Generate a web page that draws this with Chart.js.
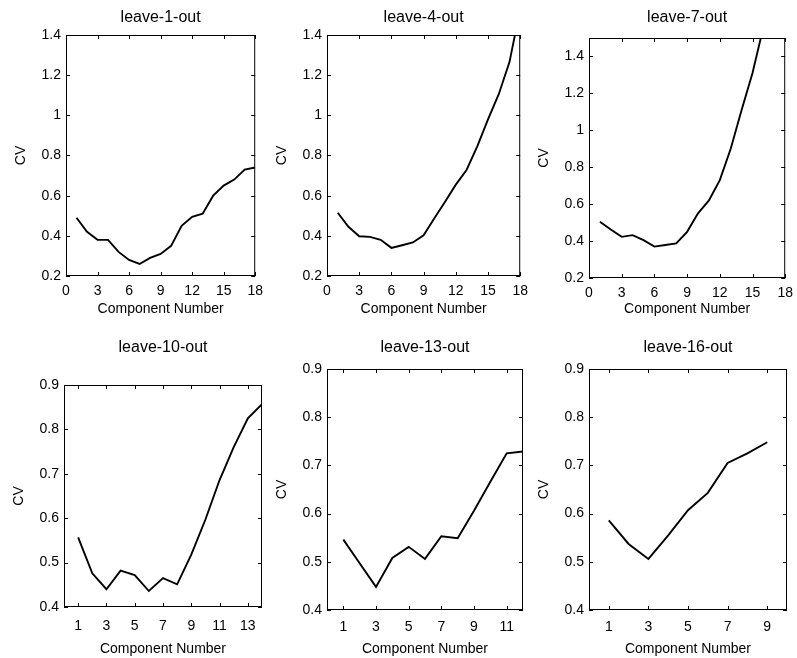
<!DOCTYPE html>
<html lang="en">
<head>
    <meta charset="UTF-8">
    <title>CV vs Component Number</title>
    <style>
        body {
            margin: 0;
            padding: 0;
            background-color: #fff;
            overflow: hidden;
        }

        .panel {
            position: absolute;
        }
    </style>
</head>
<body>
    <div id="panels"></div>

    <script src="https://cdn.jsdelivr.net/npm/chart.js"></script>
    <script>
        // CV values, one value per component number
        const components18 = [1, 2, 3, 4, 5, 6, 7, 8, 9, 10, 11, 12, 13, 14, 15, 16, 17, 18];
        const cvLeave1 = [0.49, 0.42, 0.38, 0.38, 0.32, 0.28, 0.26, 0.29, 0.31, 0.35, 0.45, 0.495, 0.51, 0.60, 0.65, 0.68, 0.73, 0.74];
        const cvLeave4 = [0.515, 0.445, 0.398, 0.395, 0.38, 0.34, 0.353, 0.367, 0.403, 0.487, 0.57, 0.655, 0.728, 0.845, 0.98, 1.105, 1.265, 1.53];
        const components16 = [1, 2, 3, 4, 5, 6, 7, 8, 9, 10, 11, 12, 13, 14, 15, 16];
        const cvLeave7 = [0.505, 0.463, 0.423, 0.432, 0.405, 0.37, 0.379, 0.387, 0.45, 0.55, 0.62, 0.73, 0.90, 1.11, 1.31, 1.56];
        const components14 = [1, 2, 3, 4, 5, 6, 7, 8, 9, 10, 11, 12, 13, 14];
        const cvLeave10 = [0.557, 0.476, 0.44, 0.482, 0.472, 0.436, 0.465, 0.451, 0.518, 0.597, 0.686, 0.76, 0.825, 0.857];
        const components12 = [1, 2, 3, 4, 5, 6, 7, 8, 9, 10, 11, 12];
        const cvLeave13 = [0.546, 0.497, 0.448, 0.508, 0.531, 0.506, 0.553, 0.549, 0.606, 0.666, 0.725, 0.729];
        const components9 = [1, 2, 3, 4, 5, 6, 7, 8, 9];
        const cvLeave16 = [0.586, 0.537, 0.506, 0.555, 0.607, 0.643, 0.705, 0.725, 0.748];

        // tick labels
        const xTicksTop = [0, 3, 6, 9, 12, 15, 18];
        const yTicksTop = [0.2, 0.4, 0.6, 0.8, 1.0, 1.2, 1.4];
        const xTicks10 = [1, 3, 5, 7, 9, 11, 13];
        const xTicks13 = [1, 3, 5, 7, 9, 11];
        const xTicks16 = [1, 3, 5, 7, 9];
        const yTicksBottom = [0.4, 0.5, 0.6, 0.7, 0.8, 0.9];

        const titles = ['leave-1-out', 'leave-4-out', 'leave-7-out', 'leave-10-out', 'leave-13-out', 'leave-16-out'];

        // panel layout: plot box in page pixels, title centre y, space under the box
        const panels = [
            { x: components18, y: cvLeave1, xMax: 18, yMin: 0.2, yMax: 1.4, xTicks: xTicksTop, yTicks: yTicksTop, box: [66, 35, 262, 276], titleY: 18, under: 45, tickPad: 7 },
            { x: components18, y: cvLeave4, xMax: 18, yMin: 0.2, yMax: 1.4, xTicks: xTicksTop, yTicks: yTicksTop, box: [327, 35, 527, 276], titleY: 18, under: 45, tickPad: 7 },
            { x: components16, y: cvLeave7, xMax: 18, yMin: 0.2, yMax: 1.5, xTicks: xTicksTop, yTicks: yTicksTop, box: [589, 38, 792, 278], titleY: 18, under: 43, tickPad: 7 },
            { x: components14, y: cvLeave10, xMax: 14, yMin: 0.4, yMax: 0.9, xTicks: xTicks10, yTicks: yTicksBottom, box: [64, 385, 262, 607], titleY: 348, under: 54, tickPad: 11 },
            { x: components12, y: cvLeave13, xMax: 12, yMin: 0.4, yMax: 0.9, xTicks: xTicks13, yTicks: yTicksBottom, box: [327, 369, 523, 610], titleY: 348, under: 51, tickPad: 9 },
            { x: components9, y: cvLeave16, xMax: 10, yMin: 0.4, yMax: 0.9, xTicks: xTicks16, yTicks: yTicksBottom, box: [589, 369, 787, 610], titleY: 348, under: 51, tickPad: 9 }
        ];

        const FONT = 'Arial, "Liberation Sans", sans-serif';
        const LEFT = 62, RIGHT = 8;

        // matlab style frame: full box with short inward ticks on all four sides
        const frameTicks = {
            id: 'frameTicks',
            afterDatasetsDraw(chart) {
                const { ctx, chartArea: a, scales: { x, y } } = chart;
                const len = 4;
                ctx.save();
                ctx.strokeStyle = '#000';
                ctx.lineWidth = 1;
                ctx.strokeRect(a.left + 0.5, a.top + 0.5, a.width - 1, a.height - 1);
                ctx.beginPath();
                x.ticks.forEach(t => {
                    const px = Math.round(x.getPixelForValue(t.value)) + 0.5;
                    ctx.moveTo(px, a.bottom);
                    ctx.lineTo(px, a.bottom - len);
                    ctx.moveTo(px, a.top);
                    ctx.lineTo(px, a.top + len);
                });
                y.ticks.forEach(t => {
                    const py = Math.round(y.getPixelForValue(t.value)) + 0.5;
                    ctx.moveTo(a.left, py);
                    ctx.lineTo(a.left + len, py);
                    ctx.moveTo(a.right, py);
                    ctx.lineTo(a.right - len, py);
                });
                ctx.stroke();
                ctx.restore();
            }
        };

        const holder = document.getElementById('panels');

        panels.forEach((p, i) => {
            const [l, t, r, b] = p.box;
            const top = p.titleY - 14;
            const div = document.createElement('div');
            div.className = 'panel';
            div.style.left = (l - LEFT) + 'px';
            div.style.top = top + 'px';
            div.style.width = (r - l + LEFT + RIGHT) + 'px';
            div.style.height = (b - top + p.under) + 'px';
            const canvas = document.createElement('canvas');
            div.appendChild(canvas);
            holder.appendChild(div);

            new Chart(canvas.getContext('2d'), {
                type: 'line',
                data: {
                    datasets: [{
                        data: p.x.map((v, k) => ({ x: v, y: p.y[k] })),
                        borderColor: '#000',
                        borderWidth: 1.9,
                        pointRadius: 0,
                        tension: 0,
                        fill: false,
                        clip: 0
                    }]
                },
                options: {
                    responsive: true,
                    maintainAspectRatio: false,
                    animation: false,
                    layout: { padding: { left: 0, right: RIGHT, top: 0, bottom: 0 } },
                    plugins: {
                        legend: { display: false },
                        tooltip: { enabled: false },
                        title: {
                            display: true,
                            text: titles[i],
                            fullSize: false,
                            color: '#000',
                            font: { family: FONT, size: 16, weight: 'normal' },
                            padding: { top: 4.4, bottom: t - p.titleY - 9.6 }
                        }
                    },
                    scales: {
                        x: {
                            type: 'linear',
                            min: 0,
                            max: p.xMax,
                            afterBuildTicks: s => { s.ticks = p.xTicks.map(v => ({ value: v })); },
                            afterFit: s => { s.height = p.under; },
                            grid: { display: false, drawTicks: false },
                            border: { display: false },
                            ticks: {
                                color: '#000',
                                padding: p.tickPad,
                                maxRotation: 0,
                                autoSkip: false,
                                font: { family: FONT, size: 14 }
                            },
                            title: {
                                display: true,
                                text: 'Component Number',
                                color: '#000',
                                padding: { top: 0, bottom: 3 },
                                font: { family: FONT, size: 14 }
                            }
                        },
                        y: {
                            min: p.yMin,
                            max: p.yMax,
                            afterBuildTicks: s => { s.ticks = p.yTicks.map(v => ({ value: v })); },
                            afterFit: s => { s.width = LEFT; },
                            grid: { display: false, drawTicks: false },
                            border: { display: false },
                            ticks: {
                                color: '#000',
                                padding: 5,
                                autoSkip: false,
                                font: { family: FONT, size: 14 },
                                callback: v => String(+v.toFixed(1))
                            },
                            title: {
                                display: true,
                                text: 'CV',
                                color: '#000',
                                padding: { top: 9, bottom: 0 },
                                font: { family: FONT, size: 14 }
                            }
                        }
                    }
                },
                plugins: [frameTicks]
            });
        });
    </script>
</body>
</html>
